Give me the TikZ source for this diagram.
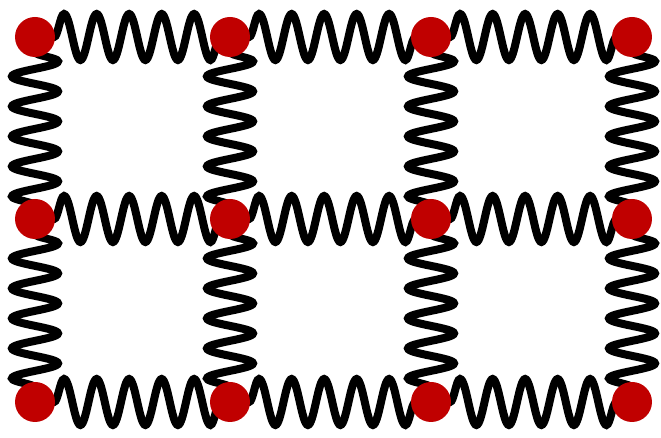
\documentclass[tikz,border=0pt]{standalone}
\usepackage{tikz}
\usetikzlibrary{decorations.pathmorphing,backgrounds}
\definecolor{massred}{RGB}{192,0,0}
\tikzset{mass/.style={circle,fill=massred,draw=none,minimum size=20pt,inner sep=0pt},
  spring/.style={line width=4pt,decorate,decoration={snake,amplitude=11.5pt,#1}},
  hspring/.style={spring={segment length=16.25pt,pre length=9.5pt,post length=0pt}},
  vspring/.style={spring={segment length=15pt,pre length=7.5pt,post length=0pt}}}

\begin{document}
\begin{tikzpicture}[x=0.5pt,y=-0.5pt]
\clip (0,0) rectangle (661,438);
\useasboundingbox (0,0) rectangle (661,438);
% masses
\node[mass] (m11) at (35,37){}; \node[mass] (m12) at (230,37){}; \node[mass] (m13) at (431,37){}; \node[mass] (m14) at (632,37){};
\node[mass] (m21) at (35,219){}; \node[mass] (m22) at (230,219){}; \node[mass] (m23) at (431,219){}; \node[mass] (m24) at (632,219){};
\node[mass] (m31) at (35,402){}; \node[mass] (m32) at (230,402){}; \node[mass] (m33) at (431,402){}; \node[mass] (m34) at (632,402){};
% springs
\begin{scope}[on background layer]
\draw[hspring] (m11.center)--(m12.center); \draw[hspring] (m12.center)--(m13.center); \draw[hspring] (m13.center)--(m14.center);
\draw[hspring] (m21.center)--(m22.center); \draw[hspring] (m22.center)--(m23.center); \draw[hspring] (m23.center)--(m24.center);
\draw[hspring] (m31.center)--(m32.center); \draw[hspring] (m32.center)--(m33.center); \draw[hspring] (m33.center)--(m34.center);
\draw[vspring] (m11.center)--(m21.center); \draw[vspring] (m12.center)--(m22.center); \draw[vspring] (m13.center)--(m23.center); \draw[vspring] (m14.center)--(m24.center);
\draw[vspring] (m21.center)--(m31.center); \draw[vspring] (m22.center)--(m32.center); \draw[vspring] (m23.center)--(m33.center); \draw[vspring] (m24.center)--(m34.center);
\end{scope}
\end{tikzpicture}
\end{document}
